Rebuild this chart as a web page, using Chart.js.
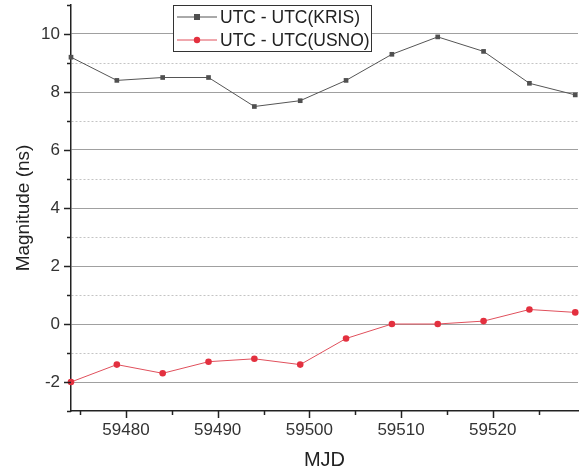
<!DOCTYPE html>
<html>
<head>
<meta charset="utf-8">
<script src="https://cdn.jsdelivr.net/npm/chart.js@4"></script>
<style>
  html, body { margin: 0; padding: 0; background: #fff; }
  #chart { display: block; }
</style>
</head>
<body>
<canvas id="chart" width="579" height="472"></canvas>
<script>
// data
const mjd = [59474, 59479, 59484, 59489, 59494, 59499, 59504, 59509, 59514, 59519, 59524, 59529];
const kris = [9.2, 8.4, 8.5, 8.5, 7.5, 7.7, 8.4, 9.3, 9.9, 9.4, 8.3, 7.9];
const usno = [-2.0, -1.4, -1.7, -1.3, -1.2, -1.4, -0.5, 0.0, 0.0, 0.1, 0.5, 0.4];
const seriesNames = ['UTC - UTC(KRIS)', 'UTC - UTC(USNO)'];
const xLabels = [59480, 59490, 59500, 59510, 59520];
const yLabels = [-2, 0, 2, 4, 6, 8, 10];

const FONT = "'Liberation Sans', Arial, sans-serif";

const toPoints = ys => mjd.map((x, i) => ({x: x, y: ys[i]}));

// tick marks: long at labelled values, short in between
const tickMarks = {
  id: 'tickMarks',
  afterDraw(chart){
    const c = chart.ctx;
    const xs = chart.scales.x, ys = chart.scales.y;
    const area = chart.chartArea;
    c.save();
    c.strokeStyle = '#222';
    c.lineWidth = 1.5;
    for (let v = -3; v <= 11; v++){
      const py = Math.round(ys.getPixelForValue(v)) + 0.5;
      const len = yLabels.includes(v) ? 7 : 4;
      c.beginPath();
      c.moveTo(area.left - len, py);
      c.lineTo(area.left, py);
      c.stroke();
    }
    for (let v = 59475; v <= 59525; v += 5){
      const px = Math.round(xs.getPixelForValue(v)) + 0.5;
      const len = xLabels.includes(v) ? 7 : 4;
      c.beginPath();
      c.moveTo(px, area.bottom);
      c.lineTo(px, area.bottom + len);
      c.stroke();
    }
    c.restore();
  }
};

// boxed legend inside the plot, like the original
const boxLegend = {
  id: 'boxLegend',
  afterDraw(chart){
    const c = chart.ctx;
    const x0 = 173.5, y0 = 5.5, w = 198, h = 46;
    c.save();
    c.fillStyle = '#fff';
    c.fillRect(x0, y0, w, h);
    c.strokeStyle = '#333';
    c.lineWidth = 1;
    c.strokeRect(x0, y0, w, h);
    chart.data.datasets.forEach((ds, i) => {
      const cy = 17 + i * 23;
      c.strokeStyle = ds.borderColor;
      c.lineWidth = 1;
      c.beginPath();
      c.moveTo(177, cy);
      c.lineTo(217, cy);
      c.stroke();
      c.fillStyle = ds.pointBackgroundColor;
      if (ds.pointStyle === 'rect'){
        c.fillRect(194, cy - 3, 6, 6);
      } else {
        c.beginPath();
        c.arc(197, cy, 3.2, 0, Math.PI * 2);
        c.fill();
      }
      c.fillStyle = '#222';
      c.font = '17.5px ' + FONT;
      c.textBaseline = 'middle';
      c.fillText(ds.label, 220, cy + 1);
    });
    c.restore();
  }
};

new Chart(document.getElementById('chart'), {
  type: 'line',
  data: {
    datasets: [{
      label: seriesNames[0],
      data: toPoints(kris),
      borderColor: '#555',
      borderWidth: 1,
      pointStyle: 'rect',
      pointRadius: 3.3,
      pointBackgroundColor: '#505050',
      pointBorderWidth: 0,
      tension: 0,
      clip: false
    }, {
      label: seriesNames[1],
      data: toPoints(usno),
      borderColor: '#e0505c',
      borderWidth: 1,
      pointStyle: 'circle',
      pointRadius: 3.3,
      pointBackgroundColor: '#e3303f',
      pointBorderWidth: 0,
      tension: 0,
      clip: false
    }]
  },
  options: {
    responsive: false,
    animation: false,
    layout: { autoPadding: false, padding: { top: 5, right: 1, left: 0, bottom: 0 } },
    plugins: { legend: { display: false }, tooltip: { enabled: false } },
    scales: {
      x: {
        type: 'linear',
        min: 59474,
        max: 59529.3,
        afterFit: s => { s.height = 61; s.paddingLeft = 0; s.paddingRight = 0; },
        afterBuildTicks: s => { s.ticks = s.ticks.filter(t => t.value % 5 === 0); },
        ticks: {
          stepSize: 5,
          autoSkip: false,
          maxRotation: 0,
          padding: 9,
          color: '#333',
          font: { family: FONT, size: 17 },
          callback: v => xLabels.includes(v) ? String(v) : ''
        },
        grid: { display: false, drawTicks: false },
        border: { display: true, color: '#222', width: 1.5 },
        title: {
          display: true,
          text: 'MJD',
          color: '#222',
          font: { family: FONT, size: 20, lineHeight: 1.2 },
          padding: { top: 0, bottom: 0 }
        }
      },
      y: {
        type: 'linear',
        min: -3,
        max: 11,
        afterFit: s => { s.width = 71; s.paddingTop = 0; s.paddingBottom = 0; },
        ticks: {
          stepSize: 1,
          autoSkip: false,
          padding: 11,
          color: '#333',
          font: { family: FONT, size: 17 },
          callback: v => yLabels.includes(v) ? String(v) : ''
        },
        grid: {
          drawTicks: false,
          lineWidth: 1,
          color: ctx => {
            const v = ctx.tick ? ctx.tick.value : 0;
            if (v === -3 || v === 11) return 'rgba(0,0,0,0)';
            return Math.abs(v % 2) === 1 ? '#c4c4c4' : '#a0a0a0';
          }
        },
        border: {
          display: true,
          color: '#222',
          width: 1.5,
          dash: ctx => (ctx.tick && Math.abs(ctx.tick.value % 2) === 1) ? [2, 2] : []
        },
        title: {
          display: true,
          text: 'Magnitude (ns)',
          color: '#222',
          font: { family: FONT, size: 19, lineHeight: 1.2 },
          padding: { top: 12, bottom: 0 }
        }
      }
    }
  },
  plugins: [tickMarks, boxLegend]
});
</script>
</body>
</html>
